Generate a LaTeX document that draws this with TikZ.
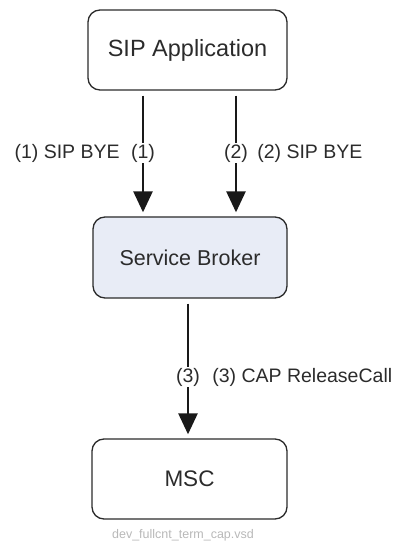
\documentclass[tikz,border=0pt]{standalone}
\usepackage{fontspec}
\setmainfont{Liberation Sans}
\usetikzlibrary{arrows.meta,positioning}

\definecolor{brokerfill}{HTML}{E8ECF6}
\definecolor{inkgray}{HTML}{2B2B2B}
\definecolor{filegray}{HTML}{B8B8B8}

\tikzset{
  box/.style={draw=inkgray,line width=1.3pt,rounded corners=12pt,
    minimum height=80pt,inner sep=0pt,text=inkgray},
  msg/.style={line width=2.6pt,draw=black!90,
    -{Triangle[width=19pt,length=21pt]},shorten <=5pt,shorten >=4pt},
  tag/.style={fill=white,inner sep=1pt,text=inkgray,font=\fontsize{19.5}{22}\selectfont},
  txt/.style={inner sep=0pt,text=inkgray,font=\fontsize{19.5}{22}\selectfont}
}

\begin{document}
\begin{tikzpicture}[x=1pt,y=1pt]
  \useasboundingbox (0,0) rectangle (397,544);

  %%%%%%%%%%%%%The boxes%%%%%%%%%%%%%%%%%%%%%%
  \node[box,minimum width=199pt,font=\fontsize{23.5}{28}\selectfont] (app) at (187.5,494) {SIP Application};
  \node[box,fill=brokerfill,minimum width=194pt,minimum height=81pt,font=\fontsize{21.5}{26}\selectfont] (broker) at (190,286.5) {Service Broker};
  \node[box,minimum width=195pt,font=\fontsize{22.5}{27}\selectfont] (msc) at (189.5,65) {MSC};

  %%%%%%%%%%%%%The messages%%%%%%%%%%%%%%%%%%%%%%
  \draw[msg] ([xshift=-44.5pt]app.south) -- ([xshift=-44.5pt]app.south |- broker.north);
  \draw[msg] ([xshift=48.5pt]app.south) -- ([xshift=48.5pt]app.south |- broker.north);
  \draw[msg] ([xshift=-2pt]broker.south) -- ([xshift=-2pt]broker.south |- msc.north);

  \node[tag] (n1) at (143,391) {(1)};
  \node[txt,left=10pt of n1] (bye1) {(1) SIP BYE};
  \node[tag] (n2) at (236,391) {(2)};
  \node[txt,right=8pt of n2] (bye2) {(2) SIP BYE};
  \node[tag] (n3) at (188,167) {(3)};
  \node[txt,right=11pt of n3] (rel) {(3) CAP ReleaseCall};

  \node[text=filegray,inner sep=0pt,font=\fontsize{12.5}{14}\selectfont] (file) at (183,9) {dev\_fullcnt\_term\_cap.vsd};
\end{tikzpicture}
\end{document}
